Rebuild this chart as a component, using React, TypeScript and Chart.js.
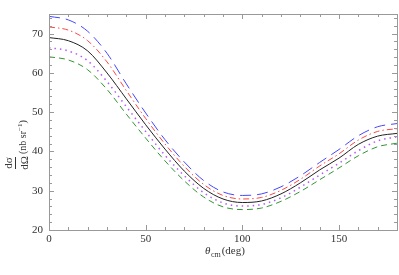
import React, { useEffect, useRef } from "react";
import { Chart, registerables } from "chart.js";

Chart.register(...registerables);

const theta = [0, 10, 20, 30, 40, 50, 60, 70, 80, 90, 100, 110, 120, 130, 140, 150, 160, 170, 180];
const blueVals = [74.4, 73.5, 70.6, 65.0, 57.2, 49.8, 43.0, 37.3, 32.6, 29.7, 28.8, 29.2, 31.0, 33.8, 37.2, 40.5, 44.0, 46.3, 47.1];
const redVals = [71.7, 70.9, 68.2, 62.8, 55.5, 48.4, 41.9, 36.2, 31.6, 28.8, 27.9, 28.3, 30.1, 32.9, 36.3, 39.4, 42.9, 45.1, 45.8];
const blackVals = [69.0, 68.2, 65.6, 60.0, 53.4, 46.8, 40.6, 35.0, 30.6, 27.9, 27.0, 27.4, 29.2, 32.0, 35.3, 38.3, 41.8, 43.9, 44.6];
const purpleVals = [66.4, 65.6, 63.1, 57.8, 51.4, 45.1, 39.0, 33.8, 29.5, 26.9, 26.1, 26.5, 28.2, 30.9, 34.0, 37.0, 40.2, 42.7, 43.75];
const greenVals = [64.1, 63.3, 60.8, 55.8, 49.5, 43.4, 37.6, 32.5, 28.4, 25.9, 25.2, 25.6, 27.3, 29.8, 32.8, 35.8, 38.9, 41.2, 42.1];

const xTickVals = [0, 50, 100, 150];
const xMinorVals = [10, 20, 30, 40, 60, 70, 80, 90, 110, 120, 130, 140, 160, 170];
const yTickVals = [20, 30, 40, 50, 60, 70];
const yMinorVals = [22, 24, 26, 28, 32, 34, 36, 38, 42, 44, 46, 48, 52, 54, 56, 58, 62, 64, 66, 68, 72, 74];

const SERIF = '"Liberation Serif", "Times New Roman", Times, serif';
const TEXT = "#333";

const mk = (vals: number[]) => theta.map((t, i) => ({ x: t, y: vals[i] }));

const decorPlugin = {
  id: "decor",
  afterDraw(chart: any) {
    const { ctx, chartArea: a, scales } = chart;
    const xs = scales.x;
    const ys = scales.y;
    ctx.save();
    ctx.strokeStyle = "#999";
    ctx.lineWidth = 1;
    ctx.strokeRect(Math.round(a.left) + 0.5, Math.round(a.top) + 0.5, Math.round(a.right - a.left), Math.round(a.bottom - a.top));
    ctx.beginPath();
    const xt = (v: number, len: number) => {
      const px = Math.round(xs.getPixelForValue(v)) + 0.5;
      ctx.moveTo(px, a.bottom);
      ctx.lineTo(px, a.bottom - len);
      ctx.moveTo(px, a.top);
      ctx.lineTo(px, a.top + len);
    };
    const yt = (v: number, len: number) => {
      const py = Math.round(ys.getPixelForValue(v)) + 0.5;
      ctx.moveTo(a.left, py);
      ctx.lineTo(a.left + len, py);
      ctx.moveTo(a.right, py);
      ctx.lineTo(a.right - len, py);
    };
    xTickVals.forEach((v) => xt(v, 5));
    xMinorVals.forEach((v) => xt(v, 3));
    yTickVals.forEach((v) => yt(v, 5));
    yMinorVals.forEach((v) => yt(v, 3));
    ctx.stroke();

    // x title
    ctx.fillStyle = TEXT;
    ctx.textBaseline = "alphabetic";
    ctx.textAlign = "left";
    let x = 205;
    const yb = 254;
    ctx.font = `italic 11px ${SERIF}`;
    ctx.fillText("θ", x, yb);
    x += ctx.measureText("θ").width + 0.5;
    ctx.font = `8px ${SERIF}`;
    ctx.fillText("cm", x, yb + 3);
    x += ctx.measureText("cm").width + 1;
    ctx.font = `11px ${SERIF}`;
    ctx.fillText("(deg)", x, yb);

    // y title (rotated)
    ctx.save();
    ctx.translate(15.5, 169);
    ctx.rotate(-Math.PI / 2);
    ctx.textAlign = "center";
    const fracW = 12;
    ctx.font = `11px ${SERIF}`;
    ctx.fillText("dσ", fracW / 2, -4);
    ctx.fillText("dΩ", fracW / 2, 12);
    ctx.fillRect(0, -0.5, fracW, 1);
    ctx.textAlign = "left";
    ctx.font = `10px ${SERIF}`;
    let tx = fracW + 3;
    ctx.fillText("(nb sr", tx, 10);
    tx += ctx.measureText("(nb sr").width;
    ctx.font = `7px ${SERIF}`;
    ctx.fillText("−1", tx, 6);
    tx += ctx.measureText("−1").width;
    ctx.font = `10px ${SERIF}`;
    ctx.fillText(")", tx, 10);
    ctx.restore();
    ctx.restore();
  },
};

export default function App() {
  const ref = useRef<HTMLCanvasElement>(null);
  useEffect(() => {
    document.body.style.margin = "0";
    const ds = (label: string, vals: number[], color: string, dash: number[], width = 1) => ({
      label,
      data: mk(vals),
      borderColor: color,
      backgroundColor: color,
      borderWidth: width,
      borderDash: dash,
      pointRadius: 0,
      fill: false,
      cubicInterpolationMode: "monotone" as const,
    });
    const chart = new Chart(ref.current!, {
      type: "line",
      data: {
        datasets: [
          ds("blue", blueVals, "rgb(70,70,255)", [11, 6], 1),
          ds("red", redVals, "rgb(255,70,70)", [6, 3, 1.5, 3], 1),
          ds("black", blackVals, "#222", [], 1),
          ds("purple", purpleVals, "rgb(180,90,255)", [1.5, 4], 1.5),
          ds("green", greenVals, "rgb(50,150,50)", [6, 4], 1),
        ],
      },
      options: {
        animation: false,
        responsive: false,
        maintainAspectRatio: false,
        layout: { padding: { left: 8, right: 2, top: 14, bottom: 0 } },
        plugins: { legend: { display: false }, tooltip: { enabled: false } },
        scales: {
          x: {
            type: "linear",
            min: 0,
            max: 180,
            grid: { display: false, drawTicks: false },
            border: { display: false },
            ticks: { font: { family: SERIF, size: 11 }, color: TEXT, padding: 3, includeBounds: false, maxRotation: 0 },
            afterBuildTicks: (s: any) => {
              s.ticks = xTickVals.map((v) => ({ value: v }));
            },
            afterFit: (s: any) => {
              s.height = 45;
            },
          },
          y: {
            type: "linear",
            min: 20,
            max: 75,
            grid: { display: false, drawTicks: false },
            border: { display: false },
            ticks: { font: { family: SERIF, size: 11 }, color: TEXT, padding: 6, includeBounds: false },
            afterBuildTicks: (s: any) => {
              s.ticks = yTickVals.map((v) => ({ value: v }));
            },
            afterFit: (s: any) => {
              s.width = 41;
            },
          },
        },
      } as any,
      plugins: [decorPlugin],
    });
    return () => chart.destroy();
  }, []);
  return (
    <div style={{ width: 399, height: 275 }}>
      <canvas ref={ref} width={399} height={275} style={{ display: "block" }} />
    </div>
  );
}
